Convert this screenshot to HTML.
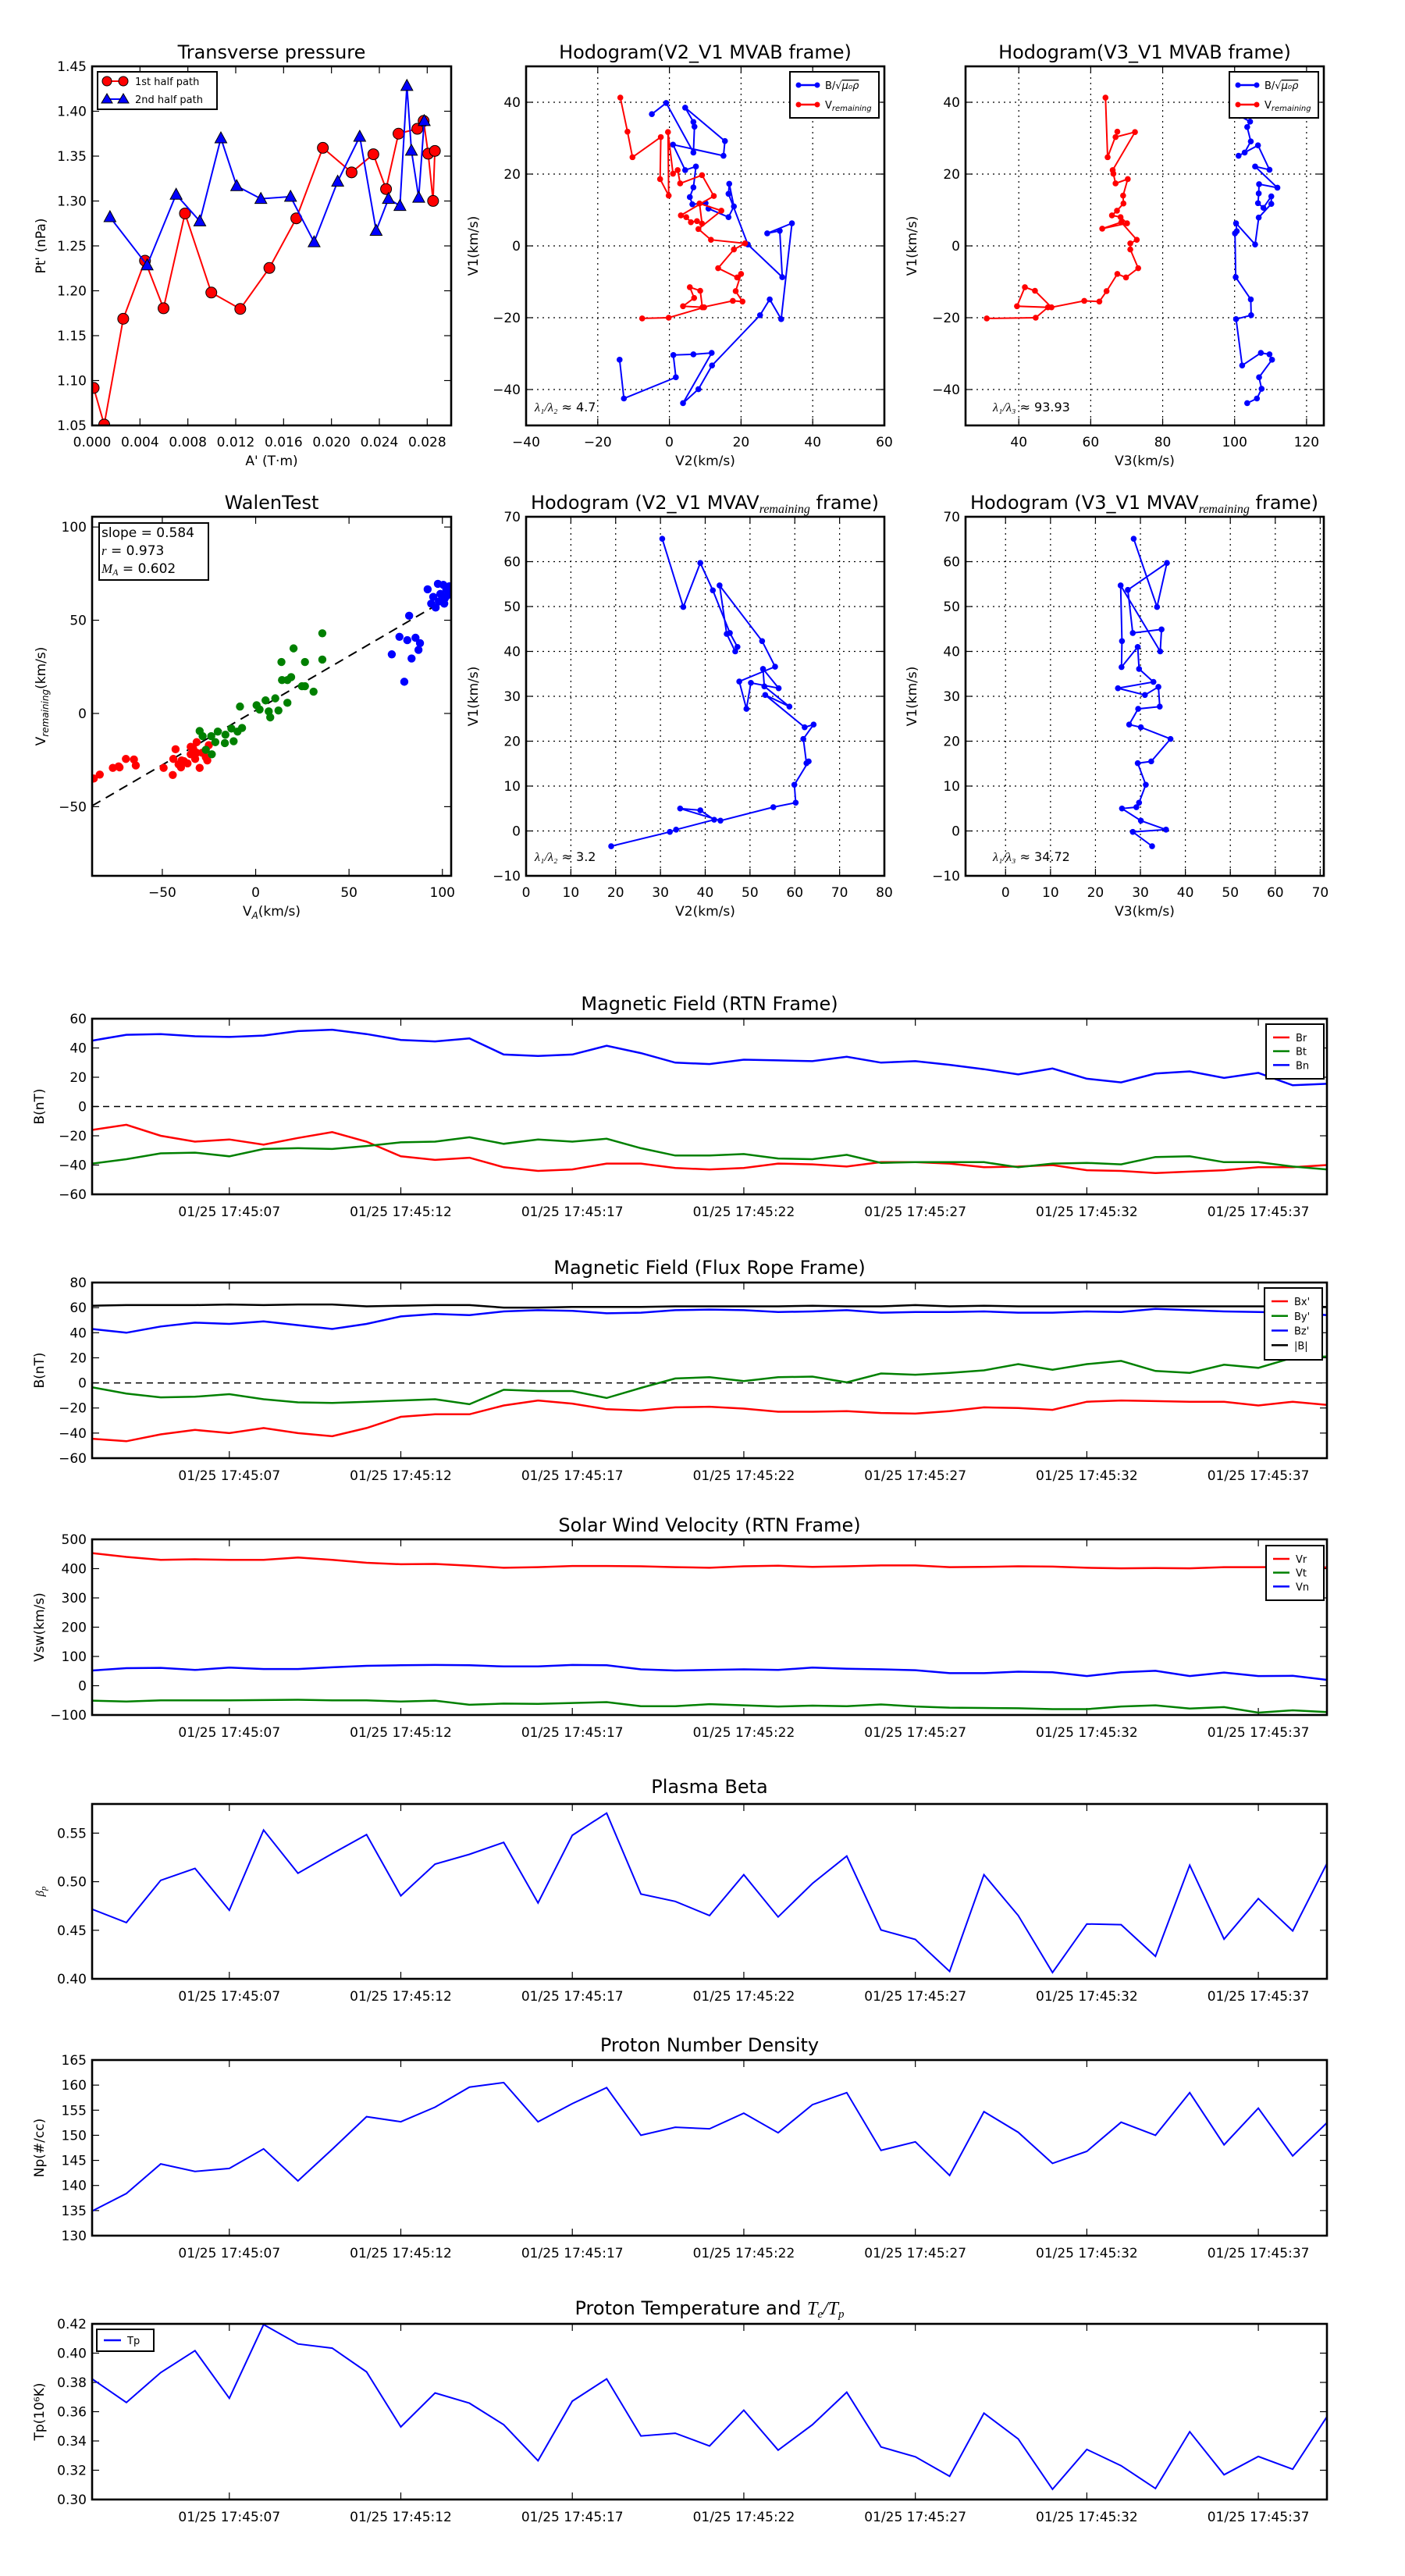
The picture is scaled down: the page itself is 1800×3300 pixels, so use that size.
<!DOCTYPE html>
<html><head><meta charset="utf-8">
<style>
html,body{margin:0;padding:0;background:#fff;}
svg{display:block;font-family:"DejaVu Sans","Liberation Sans",sans-serif;}
</style></head>
<body>
<svg id="fig" width="1800" height="3300" viewBox="0 0 1800 3300" xmlns="http://www.w3.org/2000/svg">
<rect x="0" y="0" width="1800" height="3300" fill="#fff"/>
</svg>
<script>
// ---------- Transverse pressure ----------
const tpRedA=[0.00013,0.00101,0.00260,0.00442,0.00597,0.00776,0.00996,0.01238,0.01481,0.01706,0.01928,0.02168,0.02350,0.02456,0.02560,0.02717,0.02770,0.02808,0.02849,0.02864];
const tpRedP=[1.0918,1.051,1.1688,1.2335,1.1805,1.2861,1.198,1.1798,1.2254,1.2807,1.3592,1.3319,1.3521,1.3133,1.375,1.3804,1.3892,1.3527,1.3001,1.3558];
const tpBlueA=[0.00149,0.0046,0.00702,0.009,0.01076,0.01208,0.0141,0.01658,0.01855,0.02052,0.02236,0.02373,0.02476,0.02572,0.02630,0.02668,0.02729,0.02775];
const tpBlueP=[1.2822,1.2285,1.3072,1.2775,1.37,1.3167,1.3025,1.3049,1.2542,1.3217,1.3717,1.267,1.3025,1.2947,1.4284,1.3562,1.3038,1.3892];
// ---------- Hodogram V2_V1 MVAB ----------
const h1BlueV2=[-4.9,-0.9,6.7,7.0,6.7,4.4,15.5,15.1,1.0,4.4,7.4,6.7,5.7,6.4,10.1,10.9,16.5,18.0,16.7,16.5,21.9,31.5,30.8,27.3,34.2,31.2,28.0,25.3,11.9,8.1,3.8,11.8,6.7,1.1,1.8,-12.7,-13.9];
const h1BlueV1=[36.7,39.8,26.0,33.2,34.5,38.5,29.2,25.1,28.2,21.1,22.1,16.3,13.6,11.6,11.9,10.4,8.0,11.0,17.3,14.5,0.4,-8.7,4.2,3.5,6.3,-20.4,-14.9,-19.3,-33.3,-39.9,-43.8,-29.8,-30.2,-30.4,-36.6,-42.5,-31.7];
const h1RedV2=[-13.7,-11.7,-10.3,-2.4,-2.6,-0.2,-0.4,1.0,2.3,3.0,9.1,12.4,3.2,4.7,6.0,7.7,9.1,8.4,14.5,8.1,11.6,21.1,18.0,13.6,18.9,20.0,18.5,20.4,17.7,9.2,8.6,5.7,6.9,3.8,9.7,-0.2,-7.6];
const h1RedV1=[41.3,31.8,24.7,30.3,18.6,14.0,31.7,20.1,21.1,17.4,19.7,13.9,8.5,8.0,6.6,6.9,6.2,11.8,9.8,4.7,1.7,0.7,-1.0,-6.2,-8.8,-7.8,-12.6,-15.5,-15.3,-17.1,-12.5,-11.5,-14.5,-16.8,-17.1,-20.0,-20.2];
// ---------- Hodogram V3_V1 MVAB ----------
const h2BlueV3=[101.4,104.3,103.5,104.5,102.8,101.1,106.5,109.7,105.7,111.9,106.8,106.7,106.5,108.0,110.2,110.2,106.7,105.7,100.4,100.6,100.1,100.3,104.5,104.6,100.4,102.1,107.3,109.7,110.4,106.8,107.5,106.2,103.5];
const h2BlueV1=[36.2,34.6,33.1,29.1,26.0,25.1,28.0,21.2,22.1,16.2,17.2,14.6,11.9,10.6,13.8,11.7,7.9,0.4,6.3,4.1,3.5,-8.7,-14.9,-19.3,-20.4,-33.3,-29.8,-30.2,-31.7,-36.6,-39.8,-42.5,-43.8];
const h2RedV3=[64.1,64.7,67.4,66.9,72.3,66.1,66.3,66.9,70.3,69.0,69.1,67.3,65.9,68.3,70.1,63.2,68.5,72.8,71.0,71.0,73.2,69.8,67.4,64.4,62.4,58.2,49.1,44.5,41.7,39.5,48.1,44.7,31.1];
const h2RedV1=[41.3,24.7,31.8,30.3,31.7,21.1,20.1,17.4,18.6,14.0,11.8,9.8,8.5,8.0,6.3,4.8,6.6,1.7,0.7,-1.0,-6.2,-8.8,-7.8,-12.6,-15.5,-15.3,-17.1,-12.5,-11.5,-16.8,-17.1,-20.0,-20.2];
// ---------- Walen test ----------
const wRedVA=[-86.7,-83.5,-76.5,-73.4,-72.9,-69.5,-65.2,-64.2,-49.3,-44.4,-44.1,-42.9,-41.3,-40.0,-38.4,-36.5,-34.8,-33.5,-32.4,-31.6,-30.0,-28.7,-26.7,-25.9,-31.6,-25.1,-34.8,-39.7];
const wRedV=[-34.9,-32.8,-29.2,-28.4,-28.9,-24.4,-24.7,-27.9,-29.2,-33.0,-24.4,-19.2,-27.3,-28.9,-25.6,-26.8,-21.9,-18.7,-24.4,-21.1,-29.2,-21.1,-23.5,-25.2,-15.4,-17.0,-17.9,-25.2];
const wGreenVA=[-30.0,-28.4,-26.7,-23.5,-23.8,-21.6,-20.3,-16.2,-16.5,-13.0,-11.8,-9.7,-7.3,-8.4,0.5,2.1,5.3,7.0,7.8,10.5,12.2,13.8,14.1,17.0,17.0,19.0,20.3,24.8,26.4,26.4,31.0,35.7,35.7];
const wGreenV=[-9.4,-12.2,-19.5,-21.9,-12.2,-15.4,-9.7,-11.4,-15.9,-8.1,-14.9,-9.7,-7.8,3.7,4.4,2.1,7.0,1.1,-2.1,8.1,1.6,27.6,17.9,17.9,5.7,19.5,34.9,14.6,27.6,14.6,11.7,43.0,28.9];
const wBlueVA=[72.9,77.0,79.6,81.2,82.2,83.5,85.6,87.2,88.0,92.1,94.0,95.1,96.4,97.6,98.9,100.5,101.0,102.1,103.7,103.7,101.3,98.1,102.6];
const wBlueV=[31.7,41.1,17.0,39.3,52.4,29.5,40.6,34.1,37.7,66.6,58.9,62.5,56.8,69.5,64.1,69.0,58.9,66.6,68.2,64.1,61.7,60.1,63.3];
const wSlope=0.584, wIntercept=1.6, wFitRange=[-87.5,100];
// ---------- Hodogram MVAV ----------
const h3V2=[30.4,35.1,38.9,41.7,45.5,47.2,46.7,44.8,43.2,52.7,55.6,47.6,49.2,50.2,56.4,52.9,53.2,58.8,53.4,62.2,64.2,61.9,62.6,63.1,59.9,60.2,55.2,43.4,34.4,38.9,42.0,33.5,32.1,19.0];
const h3V1=[65.1,49.9,59.7,53.6,44.1,41.0,40.0,43.9,54.7,42.3,36.6,33.3,27.2,33.0,31.8,36.1,32.2,27.7,30.3,23.1,23.7,20.5,15.1,15.5,10.3,6.3,5.3,2.3,5.0,4.6,2.5,0.3,-0.2,-3.4];
const h4V3=[28.5,33.7,35.9,27.2,28.3,34.7,34.4,25.6,25.9,25.8,29.4,29.7,32.9,25.0,31.0,34.0,34.3,29.5,27.5,30.1,36.7,32.4,29.4,31.2,29.7,29.1,25.9,30.1,35.7,28.3,32.6];
const h4V1=[65.1,49.9,59.7,53.7,44.1,44.9,40.0,54.7,42.3,36.5,41.0,36.1,33.2,31.8,30.3,32.1,27.7,27.2,23.7,23.1,20.5,15.5,15.1,10.3,6.3,5.3,5.0,2.3,0.3,-0.2,-3.4];
// ---------- Time series ----------
const tSec=[3,4,5,6,7,8,9,10,11,12,13,14,15,16,17,18,19,20,21,22,23,24,25,26,27,28,29,30,31,32,33,34,35,36,37,38,39];
const timeTicks=[7,12,17,22,27,32,37];
const timeTickLabels=["01/25 17:45:07","01/25 17:45:12","01/25 17:45:17","01/25 17:45:22","01/25 17:45:27","01/25 17:45:32","01/25 17:45:37"];
const Br=[-16,-12.5,-20,-24,-22.5,-26,-21.5,-17.5,-24,-34,-36.5,-35,-41.5,-44,-43,-39,-39,-42,-43,-42,-39,-39.5,-41,-38,-38,-39,-41.5,-41,-40,-43.5,-44,-45.5,-44.5,-43.5,-41.5,-41.5,-40];
const Bt=[-39,-36,-32,-31.5,-34,-29,-28.5,-29,-27,-24.5,-24,-21,-25.5,-22.5,-24,-22,-28.5,-33.5,-33.5,-32.5,-35.5,-36,-33,-38.5,-38,-38,-38,-41.5,-39,-38.5,-39.5,-34.5,-34,-38,-38,-41,-43];
const Bn=[45,49,49.5,48,47.5,48.5,51.5,52.5,49.5,45.5,44.5,46.5,35.5,34.5,35.5,41.5,36.5,30,29,32,31.5,31,34,30,31,28.5,25.5,22,26,19,16.5,22.5,24,19.5,23,14.5,15.5];
const Bx=[-44.5,-46.5,-41,-37.5,-40,-36,-40,-42.5,-36,-27,-25,-25,-18,-14,-16.5,-21,-22,-19.5,-19,-20.5,-23,-23,-22.5,-24,-24.5,-22.5,-19.5,-20,-21.5,-15,-14,-14.5,-15,-15,-18,-15,-17.5];
const By=[-3.5,-8.5,-11.5,-11,-9,-13,-15.5,-16,-15,-14,-13,-17,-5.5,-6.5,-6.5,-12,-4,3.5,4.5,1.5,4.5,5,0.5,7.5,6.5,8,10,15,10.5,15,17.5,9.5,8,14.5,12,20,21];
const Bz=[43,40,45,48,47,49,46,43,47,53,55,54,57,58,57.5,55.5,56,58,58.5,58,56.5,57,58,56,56.5,56.5,57,56,56,57,56.5,59,58,57,56.5,56,54];
const Bmag=[61.5,62,62,62,62.5,62,62.5,62.5,61,61.5,62,62,60,60,60.5,60.5,60.5,61,61,61,61,61.5,61,61,62,61,61.5,61,61,61,61,61,61,61,61,61,60.5];
const Vr=[453,440,430,432,430,430,438,430,420,415,416,410,403,405,409,409,408,405,403,408,410,406,408,411,411,405,406,408,407,403,401,402,401,405,405,406,404];
const Vt=[-51,-54,-50,-50,-50,-49,-48,-50,-50,-54,-51,-65,-61,-62,-59,-56,-70,-70,-63,-67,-71,-68,-70,-64,-71,-75,-76,-77,-80,-80,-71,-67,-78,-73,-92,-84,-90];
const Vn=[52,60,61,54,62,57,57,63,68,70,71,70,66,66,71,70,56,52,54,56,54,62,58,56,53,43,43,48,46,33,46,51,33,45,33,34,20];
const betaP=[0.4717,0.4579,0.5014,0.5137,0.4706,0.5532,0.5087,0.5289,0.5485,0.4855,0.5181,0.5282,0.5405,0.4782,0.5478,0.5706,0.4873,0.4797,0.4652,0.5072,0.4637,0.4981,0.5264,0.4503,0.4406,0.4076,0.5072,0.4652,0.4065,0.4565,0.4558,0.4232,0.517,0.4409,0.4826,0.4493,0.5188];
const Np=[134.9,138.4,144.3,142.8,143.4,147.3,140.9,147.2,153.7,152.7,155.6,159.6,160.5,152.7,156.3,159.5,150.0,151.6,151.3,154.4,150.5,156.1,158.5,147.0,148.7,142.0,154.7,150.6,144.4,146.8,152.6,150.0,158.5,148.1,155.4,145.9,152.5];
const Tp=[0.3824,0.3663,0.3867,0.4017,0.3692,0.4195,0.4063,0.4034,0.3872,0.3496,0.3728,0.3658,0.3511,0.3265,0.3672,0.3824,0.3434,0.3453,0.3366,0.3610,0.3337,0.3511,0.3733,0.3359,0.3292,0.3159,0.3590,0.3414,0.3070,0.3342,0.3231,0.3075,0.3463,0.3169,0.3294,0.3207,0.3566];

const NS='http://www.w3.org/2000/svg';
const svg=document.getElementById('fig');
const defs=document.createElementNS(NS,'defs');
svg.appendChild(defs);
function mk(parent,tag,attrs,name,text){
  const el=document.createElementNS(NS,tag);
  for(const k in attrs) el.setAttribute(k,attrs[k]);
  
  
  if(text!=null) el.textContent=text;
  parent.appendChild(el);
  return el;
}
function fmt(v,d){const s=Math.abs(v).toFixed(d);return (v<0-1e-9?'\u2212':'')+s;}
let clipN=0;
function makeAxes(c){
  const g=mk(svg,'g',{},c.id);
  const sx=v=>c.L+(v-c.xmin)/(c.xmax-c.xmin)*(c.R-c.L);
  const sy=v=>c.B-(v-c.ymin)/(c.ymax-c.ymin)*(c.B-c.T);
  const fs=c.fs||17;
  // grid
  if(c.grid){
    c.xt.forEach(v=>{const x=sx(v); if(x>c.L+1&&x<c.R-1) mk(g,'line',{x1:x,y1:c.T,x2:x,y2:c.B,stroke:'#000','stroke-width':1.2,'stroke-dasharray':'2,5'},c.id+'-grid-x');});
    c.yt.forEach(v=>{const y=sy(v); if(y>c.T+1&&y<c.B-1) mk(g,'line',{x1:c.L,y1:y,x2:c.R,y2:y,stroke:'#000','stroke-width':1.2,'stroke-dasharray':'2,5'},c.id+'-grid-y');});
  }
  c.xt.forEach((v,i)=>{const x=sx(v);
    mk(g,'line',{x1:x,y1:c.B,x2:x,y2:c.B-9,stroke:'#000','stroke-width':1.2},c.id+'-xtick');
    mk(g,'line',{x1:x,y1:c.T,x2:x,y2:c.T+9,stroke:'#000','stroke-width':1.2},c.id+'-xtick-top');
    mk(g,'text',{x:x,y:c.B+(c.xtOff||27),'text-anchor':'middle','font-size':fs},c.id+'-xtick-label',c.xl[i]);
  });
  c.yt.forEach((v,i)=>{const y=sy(v);
    mk(g,'line',{x1:c.L,y1:y,x2:c.L+9,y2:y,stroke:'#000','stroke-width':1.2},c.id+'-ytick');
    mk(g,'line',{x1:c.R,y1:y,x2:c.R-9,y2:y,stroke:'#000','stroke-width':1.2},c.id+'-ytick-right');
    mk(g,'text',{x:c.L-7,y:y+6,'text-anchor':'end','font-size':fs},c.id+'-ytick-label',c.yl[i]);
  });
  if(c.title) mk(g,'text',{x:(c.L+c.R)/2,y:c.titleY,'text-anchor':'middle','font-size':c.tfs||24},c.id+'-title',c.title);
  if(c.xlabel) mk(g,'text',{x:(c.L+c.R)/2,y:c.xlabelY,'text-anchor':'middle','font-size':17},c.id+'-x-axis-title',c.xlabel);
  if(c.ylabel){const yc=(c.T+c.B)/2; mk(g,'text',{x:c.ylabelX,y:yc,'text-anchor':'middle','font-size':17,transform:`rotate(-90 ${c.ylabelX} ${yc})`},c.id+'-y-axis-title',c.ylabel);}
  const cid='clip'+(clipN++);
  const cp=mk(defs,'clipPath',{id:cid},c.id+'-clip');
  mk(cp,'rect',{x:c.L,y:c.T,width:c.R-c.L,height:c.B-c.T},c.id+'-clip-rect');
  const data=mk(g,'g',{'clip-path':`url(#${cid})`},c.id+'-plot-area');
  const top=mk(g,'g',{},c.id+'-overlay');
  mk(top,'rect',{x:c.L,y:c.T,width:c.R-c.L,height:c.B-c.T,fill:'none',stroke:'#000','stroke-width':2.6},c.id+'-frame');
  return {g,data,top,sx,sy};
}
function line(ax,xs,ys,color,w,name){
  const pts=xs.map((x,i)=>ax.sx(x).toFixed(1)+','+ax.sy(ys[i]).toFixed(1)).join(' ');
  return mk(ax.data,'polyline',{points:pts,fill:'none',stroke:color,'stroke-width':w,'stroke-linejoin':'miter'},name);
}
function dots(ax,xs,ys,color,r,name,stroke){
  xs.forEach((x,i)=>{mk(ax.data,'circle',{cx:ax.sx(x),cy:ax.sy(ys[i]),r:r,fill:color,stroke:stroke||'none','stroke-width':1},name);});
}
function tri(ax,xs,ys,color,s,name){
  xs.forEach((x,i)=>{const cx=ax.sx(x),cy=ax.sy(ys[i]);
    mk(ax.data,'polygon',{points:`${cx},${cy-s} ${cx-s*0.95},${cy+s*0.75} ${cx+s*0.95},${cy+s*0.75}`,fill:color,stroke:'#000','stroke-width':1},name);});
}
const rng=(a,b,s)=>{const r=[];for(let v=a;v<=b+1e-9;v+=s)r.push(+v.toFixed(6));return r;};

// ===== Transverse pressure =====
{
const xt=rng(0,0.028,0.004), yt=rng(1.05,1.45,0.05);
const ax=makeAxes({id:'transverse-pressure',L:118,R:578,T:85,B:545,xmin:0,xmax:0.030,ymin:1.05,ymax:1.45,
 xt,xl:xt.map(v=>v.toFixed(3)),yt,yl:yt.map(v=>v.toFixed(2)),title:'Transverse pressure',titleY:75,xlabel:"A' (T\u00b7m)",xlabelY:596,ylabel:"Pt' (nPa)",ylabelX:58});
line(ax,tpRedA,tpRedP,'#ff0000',2,'first-half-line');
dots(ax,tpRedA,tpRedP,'#ff0000',7,'first-half-point','#000');
line(ax,tpBlueA,tpBluePBind=tpBlueP,'#0000ff',2,'second-half-line');
tri(ax,tpBlueA,tpBlueP,'#0000ff',8,'second-half-point');
const lg=mk(ax.top,'g',{},'legend');
mk(lg,'rect',{x:125,y:92,width:153,height:48,fill:'#fff',stroke:'#000','stroke-width':2},'legend-box');
mk(lg,'line',{x1:137,y1:104,x2:158,y2:104,stroke:'#ff0000','stroke-width':2},'legend-line-first');
mk(lg,'circle',{cx:137,cy:104,r:6,fill:'#ff0000',stroke:'#000'},'legend-marker-first');
mk(lg,'circle',{cx:158,cy:104,r:6,fill:'#ff0000',stroke:'#000'},'legend-marker-first');
mk(lg,'text',{x:173,y:109,'font-size':13},'legend-label-first','1st half path');
mk(lg,'line',{x1:137,y1:127,x2:158,y2:127,stroke:'#0000ff','stroke-width':2},'legend-line-second');
mk(lg,'polygon',{points:'137,120 130,132 144,132',fill:'#0000ff',stroke:'#000'},'legend-marker-second');
mk(lg,'polygon',{points:'158,120 151,132 165,132',fill:'#0000ff',stroke:'#000'},'legend-marker-second');
mk(lg,'text',{x:173,y:132,'font-size':13},'legend-label-second','2nd half path');
}
var tpBluePBind;

function hodoLegend(ax,x,y){
  const lg=mk(ax.top,'g',{},'hodogram-legend');
  mk(lg,'rect',{x:x,y:y,width:114,height:59,fill:'#fff',stroke:'#000','stroke-width':2},'legend-box');
  mk(lg,'line',{x1:x+11,y1:y+17,x2:x+35,y2:y+17,stroke:'#0000ff','stroke-width':2.5},'legend-line-b');
  mk(lg,'circle',{cx:x+11,cy:y+17,r:3.5,fill:'#0000ff'},'legend-marker-b');
  mk(lg,'circle',{cx:x+35,cy:y+17,r:3.5,fill:'#0000ff'},'legend-marker-b');
  const t1=mk(lg,'text',{x:x+45,y:y+22,'font-size':13},'legend-label-b','B/\u221A');
  mk(t1,'tspan',{'font-style':'italic','text-decoration':'overline'},'legend-label-b-root','\u03BC\u2080\u03C1');
  mk(lg,'line',{x1:x+11,y1:y+42,x2:x+35,y2:y+42,stroke:'#ff0000','stroke-width':2.5},'legend-line-v');
  mk(lg,'circle',{cx:x+11,cy:y+42,r:3.5,fill:'#ff0000'},'legend-marker-v');
  mk(lg,'circle',{cx:x+35,cy:y+42,r:3.5,fill:'#ff0000'},'legend-marker-v');
  const t2=mk(lg,'text',{x:x+45,y:y+47,'font-size':13},'legend-label-v','V');
  mk(t2,'tspan',{'font-style':'italic','font-size':10,dy:3},'legend-label-v-sub','remaining');
}
function lamText(ax,x,y,sub,val){
  const t=mk(ax.top,'text',{x:x,y:y,'font-size':16},'eigenvalue-ratio','');
  mk(t,'tspan',{'font-style':'italic','font-family':'Liberation Serif, serif'},'lambda1','\u03BB\u2081/\u03BB'+sub);
  mk(t,'tspan',{},'ratio-value',' \u2248 '+val);
}
// ===== Hodogram 1 =====
{
const xt=rng(-40,60,20), yt=rng(-40,40,20);
const ax=makeAxes({id:'hodogram-v2-v1-mvab',L:674,R:1133,T:85,B:545,xmin:-40,xmax:60,ymin:-50,ymax:50,grid:true,
 xt,xl:xt.map(v=>fmt(v,0)),yt,yl:yt.map(v=>fmt(v,0)),title:'Hodogram(V2_V1 MVAB frame)',titleY:75,xlabel:'V2(km/s)',xlabelY:596,ylabel:'V1(km/s)',ylabelX:612});
line(ax,h1BlueV2,h1BlueV1,'#0000ff',2,'b-alfven-path');
dots(ax,h1BlueV2,h1BlueV1,'#0000ff',3.8,'b-alfven-point');
line(ax,h1RedV2,h1RedV1,'#ff0000',2,'v-remaining-path');
dots(ax,h1RedV2,h1RedV1,'#ff0000',3.8,'v-remaining-point');
hodoLegend(ax,1012,92);
lamText(ax,685,527,'\u2082','4.7');
}
// ===== Hodogram 2 =====
{
const xt=rng(40,120,20), yt=rng(-40,40,20);
const ax=makeAxes({id:'hodogram-v3-v1-mvab',L:1237,R:1696,T:85,B:545,xmin:25.2,xmax:124.8,ymin:-50,ymax:50,grid:true,
 xt,xl:xt.map(v=>fmt(v,0)),yt,yl:yt.map(v=>fmt(v,0)),title:'Hodogram(V3_V1 MVAB frame)',titleY:75,xlabel:'V3(km/s)',xlabelY:596,ylabel:'V1(km/s)',ylabelX:1174});
line(ax,h2BlueV3,h2BlueV1,'#0000ff',2,'b-alfven-path');
dots(ax,h2BlueV3,h2BlueV1,'#0000ff',3.8,'b-alfven-point');
line(ax,h2RedV3,h2RedV1,'#ff0000',2,'v-remaining-path');
dots(ax,h2RedV3,h2RedV1,'#ff0000',3.8,'v-remaining-point');
hodoLegend(ax,1575,92);
lamText(ax,1272,527,'\u2083','93.93');
}
// ===== Walen test =====
{
const xt=rng(-50,100,50), yt=rng(-50,100,50);
const ax=makeAxes({id:'walen-test',L:118,R:578,T:662,B:1122,xmin:-87.6,xmax:104.7,ymin:-87.1,ymax:105.5,
 xt,xl:xt.map(v=>fmt(v,0)),yt,yl:yt.map(v=>fmt(v,0)),title:'WalenTest',titleY:652,xlabelY:1173,ylabelX:58});
const xl=mk(ax.top,'text',{x:348,y:1173,'text-anchor':'middle','font-size':17},'walen-x-axis-title','V');
mk(xl,'tspan',{'font-style':'italic','font-size':12,dy:4},'walen-x-sub','A');
mk(xl,'tspan',{dy:-4},'walen-x-unit','(km/s)');
const yl=mk(ax.top,'text',{x:58,y:892,'text-anchor':'middle','font-size':17,transform:'rotate(-90 58 892)'},'walen-y-axis-title','V');
mk(yl,'tspan',{'font-style':'italic','font-size':12,dy:4},'walen-y-sub','remaining');
mk(yl,'tspan',{dy:-4},'walen-y-unit','(km/s)');
mk(ax.data,'line',{x1:ax.sx(wFitRange[0]),y1:ax.sy(wSlope*wFitRange[0]+wIntercept),x2:ax.sx(wFitRange[1]),y2:ax.sy(wSlope*wFitRange[1]+wIntercept),stroke:'#000','stroke-width':2,'stroke-dasharray':'12,8'},'fit-line');
dots(ax,wRedVA,wRedV,'#ff0000',5.2,'walen-point-red');
dots(ax,wGreenVA,wGreenV,'#008000',5.2,'walen-point-green');
dots(ax,wBlueVA,wBlueV,'#0000ff',5.2,'walen-point-blue');
const bx=mk(ax.top,'g',{},'fit-stats-box');
mk(bx,'rect',{x:127,y:670,width:140,height:73,fill:'#fff',stroke:'#000','stroke-width':2},'fit-stats-frame');
mk(bx,'text',{x:130,y:688,'font-size':17},'slope-text','slope = 0.584');
const r=mk(bx,'text',{x:130,y:711,'font-size':17},'r-text','');
mk(r,'tspan',{'font-style':'italic','font-family':'Liberation Serif, serif'},'r-symbol','r');
mk(r,'tspan',{},'r-value',' = 0.973');
const m=mk(bx,'text',{x:130,y:734,'font-size':17},'ma-text','');
mk(m,'tspan',{'font-style':'italic','font-family':'Liberation Serif, serif'},'ma-symbol','M');
mk(m,'tspan',{'font-style':'italic','font-family':'Liberation Serif, serif','font-size':12,dy:3},'ma-sub','A');
mk(m,'tspan',{dy:-3},'ma-value',' = 0.602');
}
function titleSub(ax,x,y,pre,sub,post,name){
  const t=mk(ax.top,'text',{x:x,y:y,'text-anchor':'middle','font-size':24},name,pre);
  mk(t,'tspan',{'font-style':'italic','font-size':16,dy:5,'font-family':'Liberation Serif, serif'},name+'-sub',sub);
  mk(t,'tspan',{dy:-5},name+'-post',post);
}
// ===== Hodogram 3 =====
{
const xt=rng(0,80,10), yt=rng(-10,70,10);
const ax=makeAxes({id:'hodogram-v2-v1-mvav',L:674,R:1133,T:662,B:1122,xmin:0,xmax:80,ymin:-10,ymax:70,grid:true,
 xt,xl:xt.map(v=>fmt(v,0)),yt,yl:yt.map(v=>fmt(v,0)),xlabel:'V2(km/s)',xlabelY:1173,ylabel:'V1(km/s)',ylabelX:612});
titleSub(ax,903,652,'Hodogram (V2_V1 MVAV','remaining',' frame)','hodogram-mvav-title');
line(ax,h3V2,h3V1,'#0000ff',2,'b-alfven-path');
dots(ax,h3V2,h3V1,'#0000ff',3.8,'b-alfven-point');
lamText(ax,685,1103,'\u2082','3.2');
}
// ===== Hodogram 4 =====
{
const xt=rng(0,70,10), yt=rng(-10,70,10);
const ax=makeAxes({id:'hodogram-v3-v1-mvav',L:1237,R:1696,T:662,B:1122,xmin:-8.9,xmax:70.8,ymin:-10,ymax:70,grid:true,
 xt,xl:xt.map(v=>fmt(v,0)),yt,yl:yt.map(v=>fmt(v,0)),xlabel:'V3(km/s)',xlabelY:1173,ylabel:'V1(km/s)',ylabelX:1174});
titleSub(ax,1466,652,'Hodogram (V3_V1 MVAV','remaining',' frame)','hodogram-mvav3-title');
line(ax,h4V3,h4V1,'#0000ff',2,'b-alfven-path');
dots(ax,h4V3,h4V1,'#0000ff',3.8,'b-alfven-point');
lamText(ax,1272,1103,'\u2083','34.72');
}
// ===== Time series panels =====
function tsAxes(id,T,B,ymin,ymax,yt,yl,title,titleY,ylabel){
  return makeAxes({id,L:118,R:1700,T,B,xmin:3,xmax:39,ymin,ymax,xt:timeTicks,xl:timeTickLabels,yt,yl,title,titleY,ylabel,ylabelX:56,xtOff:28});
}
function tsLegend(ax,x,y,h,items){
  const lg=mk(ax.top,'g',{},'legend');
  mk(lg,'rect',{x:x,y:y,width:74,height:h,fill:'#fff',stroke:'#000','stroke-width':2},'legend-box');
  items.forEach((it,i)=>{const yy=y+17+i*(h-17)/items.length;
    mk(lg,'line',{x1:x+9,y1:yy,x2:x+30,y2:yy,stroke:it[1],'stroke-width':2.5},'legend-line-'+it[2]);
    mk(lg,'text',{x:x+38,y:yy+5,'font-size':13},'legend-label-'+it[2],it[0]);});
}
{
const yt=rng(-60,60,20);
const ax=tsAxes('magnetic-field-rtn',1305,1530,-60,60,yt,yt.map(v=>fmt(v,0)),'Magnetic Field (RTN Frame)',1294,'B(nT)');
mk(ax.data,'line',{x1:118,y1:ax.sy(0),x2:1700,y2:ax.sy(0),stroke:'#000','stroke-width':1.5,'stroke-dasharray':'8,6'},'zero-line');
line(ax,tSec,Br,'#ff0000',2.5,'br-line');
line(ax,tSec,Bt,'#008000',2.5,'bt-line');
line(ax,tSec,Bn,'#0000ff',2.5,'bn-line');
tsLegend(ax,1622,1312,70,[['Br','#ff0000','br'],['Bt','#008000','bt'],['Bn','#0000ff','bn']]);
}
{
const yt=rng(-60,80,20);
const ax=tsAxes('magnetic-field-flux-rope',1643,1868,-60,80,yt,yt.map(v=>fmt(v,0)),'Magnetic Field (Flux Rope Frame)',1632,'B(nT)');
mk(ax.data,'line',{x1:118,y1:ax.sy(0),x2:1700,y2:ax.sy(0),stroke:'#000','stroke-width':1.5,'stroke-dasharray':'8,6'},'zero-line');
line(ax,tSec,Bx,'#ff0000',2.5,'bx-line');
line(ax,tSec,By,'#008000',2.5,'by-line');
line(ax,tSec,Bz,'#0000ff',2.5,'bz-line');
line(ax,tSec,Bmag,'#000000',2.5,'bmag-line');
tsLegend(ax,1620,1650,92,[["Bx'",'#ff0000','bx'],["By'",'#008000','by'],["Bz'",'#0000ff','bz'],['|B|','#000000','bmag']]);
}
{
const yt=rng(-100,500,100);
const ax=tsAxes('solar-wind-velocity',1972,2197,-100,500,yt,yt.map(v=>fmt(v,0)),'Solar Wind Velocity (RTN Frame)',1962,'Vsw(km/s)');
line(ax,tSec,Vr,'#ff0000',2.5,'vr-line');
line(ax,tSec,Vt,'#008000',2.5,'vt-line');
line(ax,tSec,Vn,'#0000ff',2.5,'vn-line');
tsLegend(ax,1622,1980,70,[['Vr','#ff0000','vr'],['Vt','#008000','vt'],['Vn','#0000ff','vn']]);
}
{
const yt=[0.40,0.45,0.50,0.55];
const ax=tsAxes('plasma-beta',2311,2535,0.40,0.58,yt,yt.map(v=>v.toFixed(2)),'Plasma Beta',2297,null);
const yl=mk(ax.top,'text',{x:56,y:2423,'text-anchor':'middle','font-size':15,'font-style':'italic','font-family':'Liberation Serif, serif',transform:'rotate(-90 56 2423)'},'plasma-beta-y-axis-title','\u03B2');
mk(yl,'tspan',{'font-size':11,dy:3},'beta-sub','p');
line(ax,tSec,betaP,'#0000ff',2,'beta-line');
}
{
const yt=rng(130,165,5);
const ax=tsAxes('proton-density',2639,2864,130,165,yt,yt.map(v=>fmt(v,0)),'Proton Number Density',2628,'Np(#/cc)');
line(ax,tSec,Np,'#0000ff',2,'np-line');
}
{
const yt=rng(0.30,0.42,0.02);
const ax=tsAxes('proton-temperature',2977,3202,0.30,0.42,yt,yt.map(v=>v.toFixed(2)),null,0,'Tp(10\u2076K)');
const t=mk(ax.top,'text',{x:909,y:2965,'text-anchor':'middle','font-size':24},'proton-temperature-title','Proton Temperature and ');
mk(t,'tspan',{'font-style':'italic','font-family':'Liberation Serif, serif'},'te-tp','T');
mk(t,'tspan',{'font-style':'italic','font-family':'Liberation Serif, serif','font-size':15,dy:4},'te-sub','e');
mk(t,'tspan',{'font-style':'italic','font-family':'Liberation Serif, serif',dy:-4},'te-slash','/T');
mk(t,'tspan',{'font-style':'italic','font-family':'Liberation Serif, serif','font-size':15,dy:4},'tp-sub','p');
line(ax,tSec,Tp,'#0000ff',2,'tp-line');
const lg=mk(ax.top,'g',{},'legend');
mk(lg,'rect',{x:124,y:2984,width:73,height:28,fill:'#fff',stroke:'#000','stroke-width':2},'legend-box');
mk(lg,'line',{x1:133,y1:2998,x2:155,y2:2998,stroke:'#0000ff','stroke-width':2.5},'legend-line-tp');
mk(lg,'text',{x:163,y:3003,'font-size':13},'legend-label-tp','Tp');
}
</script>
</body></html>
